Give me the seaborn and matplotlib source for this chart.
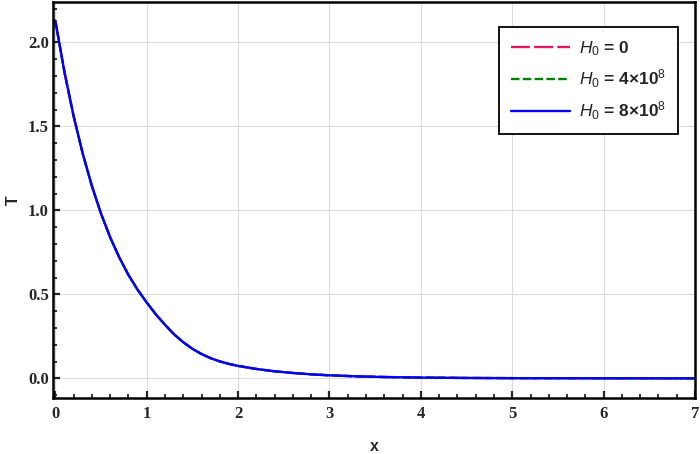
import matplotlib
matplotlib.use("Agg")
import matplotlib.pyplot as plt
from matplotlib.ticker import MultipleLocator
import seaborn as sns
import pandas as pd

# values (all three H0 curves coincide)
x_vals = [0.0, 0.1, 0.2, 0.3, 0.4, 0.5, 0.6, 0.7, 0.8, 0.9, 1.0, 1.1, 1.2, 1.3,
          1.4, 1.5, 1.6, 1.7, 1.8, 1.9, 2.0, 2.2, 2.4, 2.6, 2.8, 3.0, 3.3, 3.6,
          4.0, 4.5, 5.0, 6.0, 7.0]
T_h0_0 = [2.13, 1.824, 1.562, 1.338, 1.146, 0.981, 0.840, 0.720, 0.616, 0.528,
          0.452, 0.381, 0.319, 0.262, 0.215, 0.176, 0.145, 0.120, 0.101, 0.086,
          0.074, 0.056, 0.042, 0.032, 0.024, 0.018, 0.012, 0.008, 0.0047,
          0.0024, 0.0012, 0.0003, 0.0001]
T_h0_4e8 = list(T_h0_0)
T_h0_8e8 = list(T_h0_0)

labels = [r"$H_0$ = 0", r"$H_0$ = 4×10$^8$", r"$H_0$ = 8×10$^8$"]
colors = ["#e3175f", "#008000", "#0000ff"]
dashes = [(8, 1.8), (3.6, 1.4), ()]

sns.set_style("ticks")
plt.rcParams["font.family"] = ["Liberation Sans", "DejaVu Sans"]
plt.rcParams["mathtext.fontset"] = "custom"
plt.rcParams["mathtext.rm"] = "Liberation Sans"
plt.rcParams["mathtext.it"] = "Liberation Sans:italic"

fig = plt.figure(figsize=(7, 4.54), dpi=100)
ax = fig.add_axes([0.0757, 0.1233, 0.9172, 0.8723])

for T, lab, col, dsh in zip([T_h0_0, T_h0_4e8, T_h0_8e8], labels, colors, dashes):
    df = pd.DataFrame({"x": x_vals, "T": T})
    sns.lineplot(data=df, x="x", y="T", ax=ax, color=col, lw=1.7, label=lab)
    if dsh:
        ax.lines[-1].set_dashes(dsh)

ax.set_xlim(-0.025, 7)
ax.set_ylim(-0.117, 2.24)
ax.xaxis.set_major_locator(MultipleLocator(1))
ax.xaxis.set_minor_locator(MultipleLocator(0.2))
ax.yaxis.set_major_locator(MultipleLocator(0.5))
ax.yaxis.set_minor_locator(MultipleLocator(0.1))
ax.set_xticks(range(0, 8))
ax.set_xticklabels([str(i) for i in range(0, 8)])
ax.set_yticks([0.0, 0.5, 1.0, 1.5, 2.0])
ax.set_yticklabels(["0.0", "0.5", "1.0", "1.5", "2.0"])

ax.grid(True, which="major", color="#dcdcdc", lw=0.8)
ax.set_axisbelow(True)
for sp in ax.spines.values():
    sp.set_linewidth(1.8)
    sp.set_color("black")
ax.tick_params(which="major", direction="in", length=5, width=1.6,
               top=False, right=False)
ax.tick_params(which="minor", direction="in", length=3, width=1.3,
               top=False, right=False)
ax.tick_params(axis="x", which="major", pad=6)
ax.tick_params(axis="y", which="major", pad=3)
for t in ax.get_xticklabels() + ax.get_yticklabels():
    t.set_family("Liberation Serif")
    t.set_weight("bold")
    t.set_size(12)

ax.set_xlabel("x", fontsize=11.5, fontweight="bold", labelpad=12)
ax.set_ylabel("T", fontsize=11.5, fontweight="bold", rotation=90)
ax.yaxis.set_label_coords(-0.062, 0.5)
ax.yaxis.label.set_verticalalignment("center")

leg = ax.legend(loc="upper right", bbox_to_anchor=(0.9735, 0.937),
                borderaxespad=0, fontsize=12.5, handlelength=3.4,
                handletextpad=0.5, labelspacing=0.55, borderpad=0.7,
                fancybox=False, framealpha=1, edgecolor="black")
leg.get_frame().set_linewidth(1.3)
for t in leg.get_texts():
    t.set_fontweight("bold")

fig.savefig("out.png", dpi=100)
